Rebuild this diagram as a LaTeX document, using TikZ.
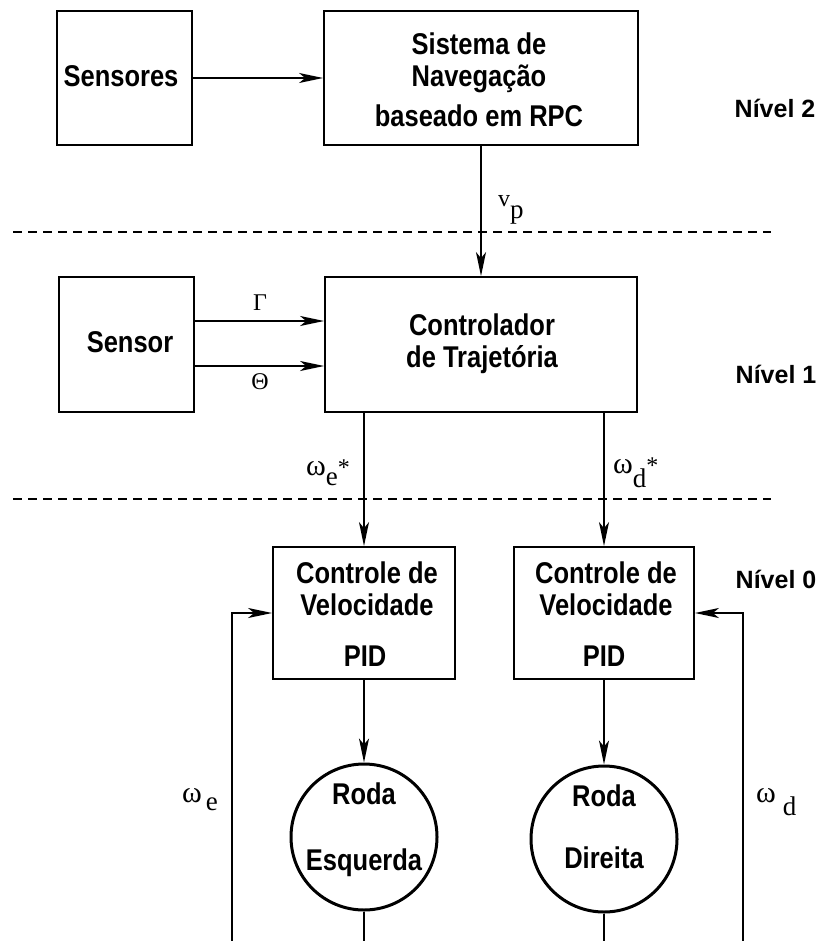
\documentclass[tikz,border=0pt]{standalone}
\usepackage{fontspec}
\setmainfont{Liberation Sans}
\newfontfamily\boxfont{Liberation Sans}[FakeStretch=0.85]
\newfontfamily\signalfont{Liberation Serif}
\usetikzlibrary{arrows.meta}
% omega and its subscript letters are set somewhat larger than the other signal names
\newcommand\sigomega{{\fontsize{30}{34}\selectfont ω}}
\newcommand\sigsub[2]{\raisebox{-#1}{\fontsize{27}{30}\selectfont #2}}
\begin{document}
\begin{tikzpicture}[x=1pt,y=-1pt,
  block/.style={draw,line width=1.8pt,rectangle,inner sep=0pt},
  wheel/.style={draw,line width=3pt,circle,inner sep=0pt,minimum size=146pt},
  btext/.style={anchor=base,inner sep=0pt,font=\boxfont\bfseries\fontsize{30}{36}\selectfont},
  lvl/.style={anchor=base,inner sep=0pt,font=\bfseries\fontsize{25}{30}\selectfont},
  sig/.style={anchor=base west,inner sep=0pt,font=\signalfont\fontsize{24}{28}\selectfont},
  arr/.style={line width=1.6pt,-{Stealth[length=24pt,width=10pt,inset=6pt]}},
  wire/.style={line width=1.6pt},
  level line/.style={line width=1.3pt,dash pattern=on 9pt off 6pt}]
\useasboundingbox (0,0) rectangle (822,941);

% blocks
\node[block,minimum width=135pt,minimum height=134pt] (sensores) at (124.5,78) {};
\node[block,minimum width=314pt,minimum height=134pt] (nav) at (481,78) {};
\node[block,minimum width=135pt,minimum height=135pt] (sensor) at (126.5,344.5) {};
\node[block,minimum width=312pt,minimum height=135pt] (ctrl) at (481,344.5) {};
\node[block,minimum width=182pt,minimum height=132pt] (pidL) at (364,613) {};
\node[block,minimum width=180pt,minimum height=132pt] (pidR) at (604,613) {};
\node[wheel] (rodaL) at (364,837) {};
\node[wheel] (rodaR) at (604,839) {};

% block texts
\node[btext] (tSensores) at (121,87) {Sensores};
\node[btext] (tNav1) at (479,55) {Sistema de};
\node[btext] (tNav2) at (479,87) {Navegação};
\node[btext] (tNav3) at (479,127) {baseado em RPC};
\node[btext] (tSensor) at (130,352) {Sensor};
\node[btext] (tCtrl1) at (482,335) {Controlador};
\node[btext] (tCtrl2) at (482,367) {de Trajetória};
\node[btext] (tPidL1) at (367,583) {Controle de};
\node[btext] (tPidL2) at (367,615) {Velocidade};
\node[btext] (tPidL3) at (365,666) {PID};
\node[btext] (tPidR1) at (606,583) {Controle de};
\node[btext] (tPidR2) at (606,615) {Velocidade};
\node[btext] (tPidR3) at (604,666) {PID};
\node[btext] (tRodaL1) at (364,804) {Roda};
\node[btext] (tRodaL2) at (364,870) {Esquerda};
\node[btext] (tRodaR1) at (604,806) {Roda};
\node[btext] (tRodaR2) at (604,868) {Direita};

% level labels
\node[lvl] (n2) at (775,118) {Nível 2};
\node[lvl] (n1) at (776,383) {Nível 1};
\node[lvl] (n0) at (776,588) {Nível 0};

% level separators
\coordinate (s2a) at (13,232);
\coordinate (s2b) at (771,232);
\coordinate (s1a) at (13,499);
\coordinate (s1b) at (771,499);
\draw[level line] (s2a) -- (s2b);
\draw[level line] (s1a) -- (s1b);

% signal flow
\draw[arr] (sensores) -- (nav);
\draw[arr] (nav) -- (ctrl);
\draw[arr] ([yshift=23.5pt]sensor.east) -- ([yshift=23.5pt]sensor.east -| ctrl.west);
\draw[arr] ([yshift=-21.5pt]sensor.east) -- ([yshift=-21.5pt]sensor.east -| ctrl.west);
\draw[arr] (ctrl.south -| pidL) -- (pidL.north);
\draw[arr] (ctrl.south -| pidR) -- (pidR.north);
\draw[arr] (pidL) -- (rodaL);
\draw[arr] (pidR) -- (rodaR);

% wheel outputs and speed feedback
\coordinate (outL) at (364,942);
\coordinate (outR) at (604,942);
\coordinate (fbL) at (232,942);
\coordinate (fbR) at (743,942);
\draw[wire] (rodaL.south) -- (outL);
\draw[wire] (rodaR.south) -- (outR);
\draw[arr] (fbL) |- (pidL.west);
\draw[arr] (fbR) |- (pidR.east);

% signal labels
\node[sig] (vp) at (498,207) {v\sigsub{12pt}{p}};
\node[sig,anchor=base] (gam) at (260,310) {Γ};
\node[sig,anchor=base] (the) at (260,389) {Θ};
\node[sig] (wes) at (306,475) {\sigomega\sigsub{10pt}{e}*};
\node[sig] (wds) at (613,473) {\sigomega\sigsub{14pt}{d}*};
\node[sig] (we) at (182,802) {\sigomega\hspace{4pt}\sigsub{8pt}{e}};
\node[sig] (wd) at (756,802) {\sigomega\hspace{7pt}\sigsub{13pt}{d}};
\end{tikzpicture}
\end{document}
